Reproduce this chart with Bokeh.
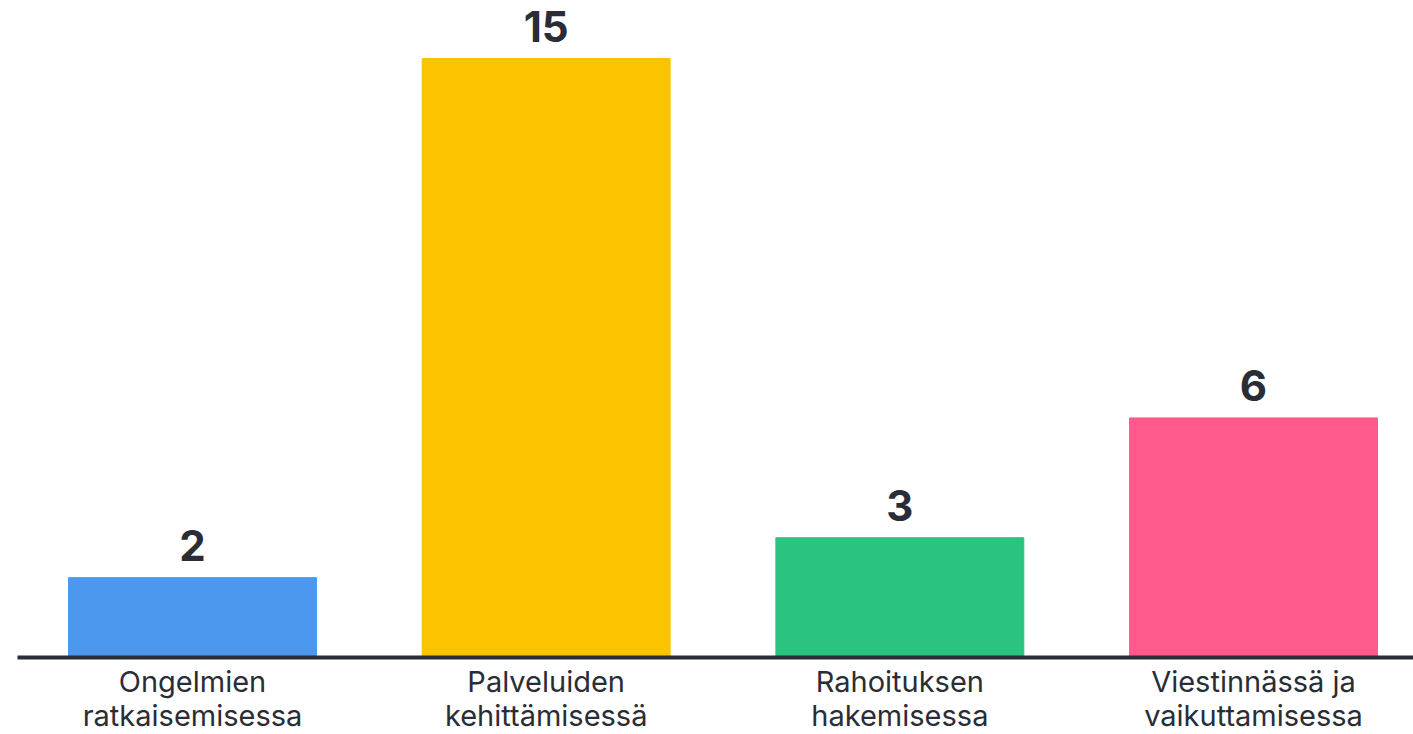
from bokeh.plotting import figure
from bokeh.models import Range1d, ColumnDataSource
from bokeh.core.properties import value
from bokeh.embed import file_html
from bokeh.resources import INLINE

categories = ["Ongelmien\nratkaisemisessa", "Palveluiden\nkehittämisessä",
              "Rahoituksen\nhakemisessa", "Viestinnässä ja\nvaikuttamisessa"]
counts = [2, 15, 3, 6]
colors = ["#4C98EE", "#FCC300", "#2AC480", "#FF5A8B"]

xs = list(range(len(categories)))
line1 = [c.split("\n")[0] for c in categories]
line2 = [c.split("\n")[1] for c in categories]
src = ColumnDataSource(dict(x=xs, top=counts, color=colors,
                            label=[str(c) for c in counts], l1=line1, l2=line2))

W, H = 1413, 734
X0, DX = 192, 353.67      # centre of first bar (px), spacing between bars (px)
BASE, DY = 657, 39.93     # baseline (px from top), px per unit
p = figure(width=W, height=H, output_backend="svg", toolbar_location=None,
           x_range=Range1d(-X0 / DX, (W - X0) / DX),
           y_range=Range1d(-(H - BASE) / DY, BASE / DY),
           min_border=0, min_border_left=0, min_border_right=0,
           min_border_top=0, min_border_bottom=0)
p.axis.visible = False
p.grid.visible = False
p.outline_line_color = None
p.background_fill_color = "white"

p.vbar(x="x", top="top", bottom=0, width=0.701, color="color", source=src)

# baseline
p.segment(x0=[(17 - X0) / DX], y0=[0], x1=[(W - X0) / DX], y1=[0],
          line_color="#2A2D36", line_width=4)

txt = "#2A2D36"
p.text(x="x", y="top", text="label", source=src, text_align="center",
       text_baseline="alphabetic", y_offset=-32, text_font=value("Inter"),
       text_font_size="42px", text_font_style="bold", text_color=txt)

p.text(x="x", y=0, text="l1", source=src, text_align="center",
       text_baseline="top", y_offset=6, text_font=value("Inter"),
       text_font_size="29px", text_color=txt)
p.text(x="x", y=0, text="l2", source=src, text_align="center",
       text_baseline="top", y_offset=40, text_font=value("Inter"),
       text_font_size="29px", text_color=txt)

open("out.html", "w").write(file_html(p, INLINE))
